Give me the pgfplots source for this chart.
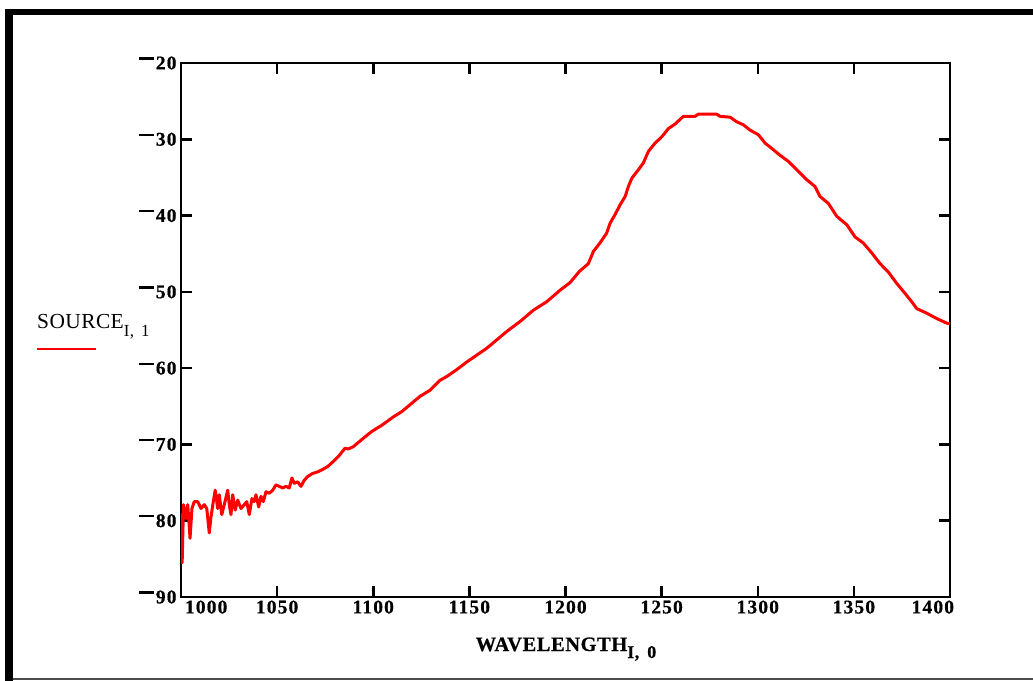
\documentclass[border=0pt]{standalone}
\usepackage{fontspec}
\setmainfont{Liberation Serif}
\usepackage{pgfplots}
\pgfplotsset{compat=1.18}
\newcommand\nsg{\rule[9.6bp]{15bp}{2.4bp}\hspace{1.6bp}}
\newcommand\tl{\fontsize{19.5}{22}\selectfont\bfseries\addfontfeature{LetterSpace=6,FakeBold=0.6}}
\begin{document}
\begin{tikzpicture}
\useasboundingbox (0,0) rectangle (1033bp,681bp);
\fill[white] (0,0) rectangle (1033bp,681bp);
\fill[black] (5bp,0) rectangle (13bp,672bp);
\fill[black] (5bp,666bp) rectangle (1033bp,672bp);
\draw[black!70, line width=1.5bp] (13bp,2bp) -- (1033bp,2bp);
\begin{axis}[
  at={(181bp,84bp)}, anchor=south west,
  scale only axis, width=769bp, height=534bp,
  xmin=1000, xmax=1400, ymin=-90, ymax=-20,
  xtick={1000,1050,...,1400},
  xticklabels={\makebox[0pt][l]{\hspace{4bp}1000},1050,1100,1150,1200,1250,1300,1350,\makebox[0pt][r]{1400\hspace{-4bp}}},
  ytick={-90,-80,...,-20},
  yticklabels={\nsg90,\nsg80,\nsg70,\nsg60,\nsg50,\nsg40,\nsg30,\nsg20},
  tick label style={font=\tl},
  yticklabel style={xshift=-1bp},
  major tick length=11bp,
  axis line style={line width=2.5bp},
  every tick/.style={black, line width=2.5bp},
  tick align=inside,
]
\addplot[red, line width=3bp, line join=round] coordinates {
(1000.0,-79.0) (1000.6,-85.5) (1001.3,-77.9) (1002.6,-79.7) (1003.5,-77.9)
(1004.7,-82.3) (1005.7,-78.4) (1006.9,-77.5) (1008.7,-77.5) (1010.4,-78.4)
(1012.1,-77.9) (1013.4,-78.4) (1014.7,-81.6) (1015.6,-79.5) (1016.8,-77.5)
(1017.8,-76.0) (1019.1,-78.4) (1019.9,-76.6) (1021.2,-79.2) (1022.5,-77.9)
(1024.3,-76.0) (1025.1,-77.9) (1026.0,-79.2) (1026.9,-76.6) (1028.2,-78.6)
(1029.5,-77.3) (1031.2,-78.4) (1032.9,-77.9) (1034.2,-77.5) (1035.5,-79.2)
(1036.9,-77.1) (1038.1,-77.5) (1039.0,-76.6) (1040.4,-78.2) (1041.6,-76.8)
(1042.8,-77.5) (1044.2,-76.2) (1045.9,-76.4) (1047.7,-76.0) (1049.4,-75.3)
(1051.1,-75.5) (1052.9,-75.7) (1054.6,-75.5) (1056.3,-75.7) (1057.7,-74.4)
(1058.9,-75.1) (1060.7,-74.9) (1062.4,-75.5) (1064.1,-74.7) (1065.9,-74.2)
(1068.5,-73.8) (1071.1,-73.6) (1073.5,-73.3) (1076.3,-72.9) (1078.9,-72.3)
(1081.8,-71.6) (1085.3,-70.5) (1087.0,-70.6) (1089.6,-70.3) (1094.8,-69.2)
(1099.2,-68.3) (1104.4,-67.5) (1110.4,-66.4) (1114.8,-65.7) (1119.1,-64.8)
(1124.3,-63.7) (1129.5,-62.9) (1134.7,-61.6) (1138.2,-61.1) (1143.4,-60.2)
(1148.6,-59.2) (1153.8,-58.3) (1159.0,-57.4) (1164.2,-56.3) (1169.4,-55.2)
(1176.3,-53.9) (1183.3,-52.4) (1190.2,-51.3) (1197.1,-49.8) (1202.3,-48.8)
(1207.3,-47.3) (1211.9,-46.3) (1214.5,-44.7) (1217.9,-43.6) (1221.4,-42.3)
(1223.2,-41.0) (1225.7,-39.9) (1228.4,-38.6) (1231.0,-37.5) (1232.7,-36.2)
(1234.5,-35.1) (1237.9,-34.0) (1240.5,-33.1) (1243.1,-31.6) (1246.6,-30.5)
(1250.0,-29.7) (1253.5,-28.6) (1257.0,-28.0) (1261.3,-27.0) (1267.4,-27.0)
(1269.1,-26.7) (1278.6,-26.7) (1280.4,-27.0) (1285.6,-27.1) (1289.0,-27.7)
(1292.5,-28.1) (1296.0,-28.8) (1300.3,-29.4) (1303.8,-30.5) (1307.3,-31.2)
(1311.6,-32.1) (1315.9,-32.9) (1320.3,-34.0) (1325.5,-35.3) (1329.8,-36.2)
(1332.4,-37.5) (1336.7,-38.4) (1341.1,-40.1) (1346.3,-41.2) (1350.6,-42.8)
(1354.9,-43.6) (1359.3,-44.9) (1363.6,-46.3) (1367.9,-47.4) (1372.3,-48.9)
(1376.6,-50.2) (1380.1,-51.3) (1382.7,-52.2) (1387.9,-52.8) (1393.1,-53.5)
(1398.3,-54.1) (1400.0,-54.2)
};
\end{axis}
\node[anchor=base, inner sep=0] at (566bp,30bp) {\fontsize{20.5}{23}\selectfont\bfseries\addfontfeature{LetterSpace=3,FakeBold=0.6}WAVELENGTH\raisebox{-7bp}{\fontsize{18}{20}\selectfont I,\hspace{8bp}0}};
\node[anchor=base west, inner sep=0] at (37bp,352bp) {\fontsize{21.5}{24}\selectfont\addfontfeature{LetterSpace=2}SOURCE\raisebox{-8bp}{\fontsize{17}{19}\selectfont I,\hspace{7bp}1}};
\draw[red, line width=2.2bp] (37bp,332bp) -- (96bp,332bp);
\end{tikzpicture}
\end{document}
